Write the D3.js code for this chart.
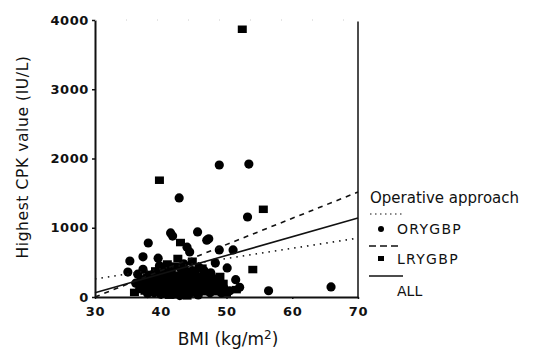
<!DOCTYPE html>
<html>
<head>
<meta charset="utf-8">
<script src="https://cdn.jsdelivr.net/npm/d3@7"></script>
<style>
  body { margin: 0; background: #fff; }
  text { font-family: "DejaVu Sans", sans-serif; fill: #111; }
</style>
</head>
<body>
<div id="chart"></div>
<script>
var svgWidth = 538;
var svgHeight = 352;

// ORYGBP patients (circles): [BMI, highest CPK]
var orygbp = [
  [48.9, 1906], [53.4, 1920], [42.8, 1430], [53.2, 1155], [38.1, 780],
  [41.5, 925], [41.8, 880], [45.6, 940], [47.3, 840], [48.9, 680],
  [51.0, 680], [56.4, 90], [65.9, 145], [35.3, 520], [37.3, 580],
  [39.6, 560], [35.0, 360], [37.3, 400], [44.0, 720], [44.4, 650],
  [47.0, 820], [48.3, 490], [47.6, 350], [50.1, 420], [51.4, 250],
  [49.6, 130], [36.2, 200], [38.5, 150], [40.2, 300], [41.0, 100],
  [42.5, 250], [43.8, 380], [45.0, 180], [46.2, 300], [39.0, 60],
  [40.8, 420], [42.0, 40], [44.5, 60], [46.8, 120], [48.0, 200],
  [37.8, 280], [41.7, 200], [43.2, 140], [45.8, 430], [39.5, 230],
  [38.0, 50], [36.8, 120], [47.5, 60], [50.5, 90], [52.0, 140],
  [37.5, 180], [38.7, 320], [39.3, 140], [40.0, 40], [40.6, 220],
  [41.2, 330], [41.5, 60], [42.3, 170], [43.0, 420], [43.6, 280],
  [44.2, 130], [44.8, 380], [45.3, 80], [46.0, 200], [46.6, 380],
  [47.8, 280], [48.6, 150], [49.2, 60], [36.5, 330], [39.8, 450],
  [42.9, 20], [45.7, 30], [40.9, 260], [43.5, 480], [46.9, 250],
  [38.9, 220], [40.4, 150], [41.9, 290], [43.1, 230], [44.9, 290],
  [46.4, 160], [47.1, 330], [39.6, 380], [42.7, 100], [45.1, 130]
];

// LRYGBP patients (squares): [BMI, highest CPK]
var lrygbp = [
  [52.4, 3870], [39.8, 1690], [55.6, 1270], [54.0, 400], [43.0, 790],
  [44.8, 520], [40.5, 350], [41.3, 30], [42.8, 320], [43.5, 60],
  [39.2, 380], [38.8, 100], [40.0, 180], [42.2, 450], [45.5, 250],
  [46.5, 80], [47.2, 190], [44.2, 300], [37.0, 260], [36.0, 70],
  [41.9, 120], [43.9, 210], [48.5, 80], [50.0, 60], [51.5, 110],
  [49.0, 300], [45.2, 350], [40.3, 50], [38.3, 330], [42.6, 560],
  [38.2, 230], [39.7, 300], [40.7, 120], [41.6, 400], [42.4, 90],
  [43.3, 350], [44.0, 20], [44.6, 200], [45.9, 140], [46.3, 420],
  [47.9, 120], [48.8, 250], [37.6, 90], [41.0, 480], [49.5, 200],
  [40.9, 180], [43.8, 160], [45.4, 60], [47.5, 240], [39.9, 90]
];

// fitted lines, value at BMI 30 and BMI 70
var fitBmi = [30, 70];
var fitOry = [260, 850];
var fitLry = [0, 1515];
var fitAll = [60, 1140];

var xTicks = [30, 40, 50, 60, 70];
var yTicks = [0, 1000, 2000, 3000, 4000];

var svg = d3.select("#chart")
    .append("svg")
    .attr("width", svgWidth)
    .attr("height", svgHeight);

var x = d3.scaleLinear().domain([30, 70]).range([95, 358]);
var y = d3.scaleLinear().domain([0, 4000]).range([297, 20]);

// axes
var xAxis = svg.append("g")
    .attr("transform", "translate(0,297)")
    .call(d3.axisBottom(x).tickValues(xTicks).tickFormat(d3.format("d")).tickSize(2).tickSizeOuter(0));
var yAxis = svg.append("g")
    .attr("transform", "translate(95,0)")
    .call(d3.axisLeft(y).tickValues(yTicks).tickFormat(d3.format("d")).tickSize(3).tickSizeOuter(0));

[xAxis, yAxis].forEach(function (g) {
    g.select(".domain").attr("stroke", "#111").attr("stroke-width", 2);
    g.selectAll(".tick line").attr("stroke", "#111").attr("stroke-width", 1.5);
    g.selectAll(".tick text")
        .style("font-family", "DejaVu Sans")
        .style("font-size", "13px")
        .style("letter-spacing", "0.6px")
        .style("font-weight", "bold")
        .attr("fill", "#222");
});
xAxis.selectAll(".tick text").attr("dy", "1.05em");
yAxis.selectAll(".tick text").attr("x", -6);

// right frame line
svg.append("line")
    .attr("x1", x(70)).attr("x2", x(70))
    .attr("y1", y(3980)).attr("y2", y(0))
    .attr("stroke", "#111").attr("stroke-width", 1.5);

// faint top edge
svg.append("line")
    .attr("x1", x(30)).attr("x2", x(70))
    .attr("y1", y(4000)).attr("y2", y(4000))
    .attr("stroke", "#ccc").attr("stroke-width", 1)
    .attr("stroke-dasharray", "1,30");

// points
svg.append("g").selectAll("circle")
    .data(orygbp)
    .enter()
    .append("circle")
    .attr("cx", d => x(d[0]))
    .attr("cy", d => y(d[1]))
    .attr("r", 4.6)
    .attr("fill", "#000");

svg.append("g").selectAll("rect")
    .data(lrygbp)
    .enter()
    .append("rect")
    .attr("x", d => x(d[0]) - 4.5)
    .attr("y", d => y(d[1]) - 3.5)
    .attr("width", 9)
    .attr("height", 7.5)
    .attr("fill", "#000");

// regression lines
var fitLine = d3.line()
    .x((d, i) => x(fitBmi[i]))
    .y(d => y(d));

svg.append("path").datum(fitOry)
    .attr("d", fitLine)
    .attr("fill", "none").attr("stroke", "#111").attr("stroke-width", 1.6)
    .attr("stroke-dasharray", "1.5,5");
svg.append("path").datum(fitLry)
    .attr("d", fitLine)
    .attr("fill", "none").attr("stroke", "#111").attr("stroke-width", 1.6)
    .attr("stroke-dasharray", "5,5");
svg.append("path").datum(fitAll)
    .attr("d", fitLine)
    .attr("fill", "none").attr("stroke", "#111").attr("stroke-width", 1.6);

// axis titles
svg.append("text")
    .attr("x", 228)
    .attr("y", 345)
    .attr("text-anchor", "middle")
    .style("font-size", "17px")
    .html('BMI (kg/m<tspan dy="-6" font-size="12px">2</tspan><tspan dy="6">)</tspan>');

svg.append("text")
    .attr("transform", "translate(28,157) rotate(-90)")
    .attr("text-anchor", "middle")
    .style("font-size", "15.5px")
    .style("letter-spacing", "0.6px")
    .text("Highest CPK value (IU/L)");

// legend
var legend = svg.append("g");
legend.append("text")
    .attr("x", 370).attr("y", 203)
    .style("font-size", "15px")
    .text("Operative approach");

legend.append("line")
    .attr("x1", 370).attr("x2", 403).attr("y1", 214).attr("y2", 214)
    .attr("stroke", "#111").attr("stroke-width", 1.2).attr("stroke-dasharray", "1.5,3.5");
legend.append("circle")
    .attr("cx", 381).attr("cy", 229).attr("r", 3).attr("fill", "#000");
legend.append("text")
    .attr("x", 397).attr("y", 234)
    .style("font-size", "14px").style("letter-spacing", "1.3px")
    .text("ORYGBP");

legend.append("line")
    .attr("x1", 369).attr("x2", 401).attr("y1", 246).attr("y2", 246)
    .attr("stroke", "#111").attr("stroke-width", 1.3).attr("stroke-dasharray", "7,4");
legend.append("rect")
    .attr("x", 378).attr("y", 256).attr("width", 6).attr("height", 5).attr("fill", "#000");
legend.append("text")
    .attr("x", 397).attr("y", 264)
    .style("font-size", "14px").style("letter-spacing", "1.3px")
    .text("LRYGBP");

legend.append("line")
    .attr("x1", 369).attr("x2", 403).attr("y1", 276).attr("y2", 276)
    .attr("stroke", "#111").attr("stroke-width", 1.5);
legend.append("text")
    .attr("x", 397).attr("y", 296)
    .style("font-size", "14px")
    .text("ALL");
</script>
</body>
</html>
